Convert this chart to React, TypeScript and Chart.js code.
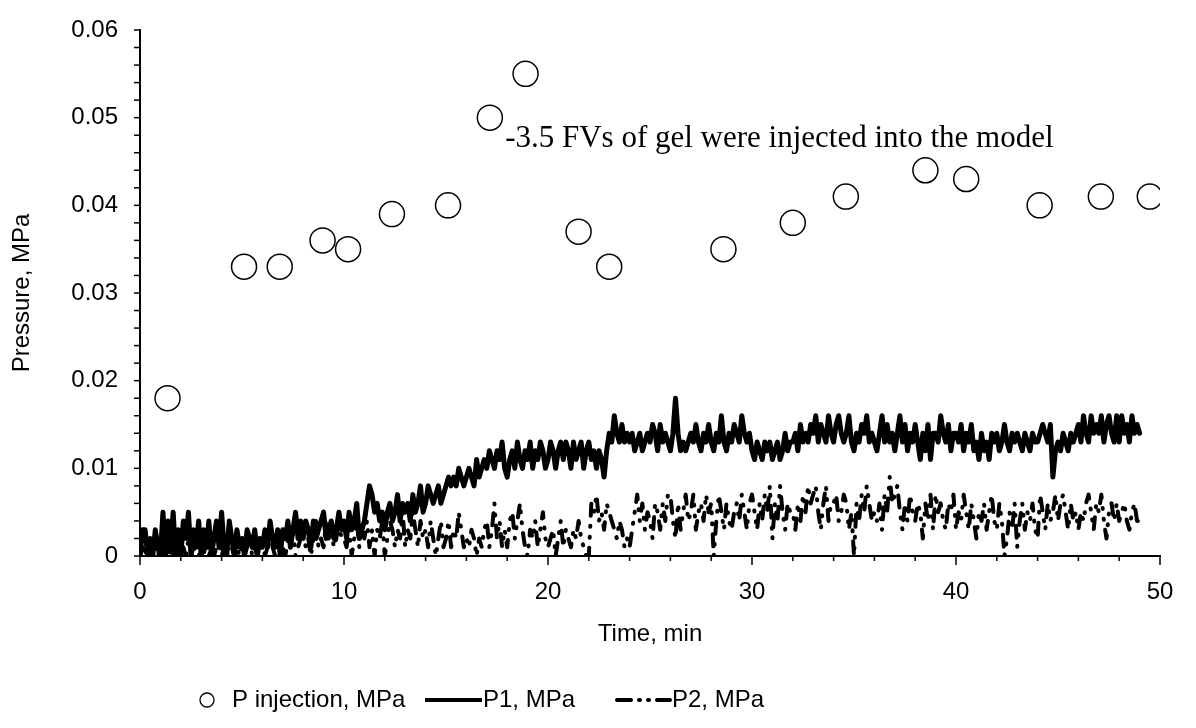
import { useEffect, useRef } from "react";
import { Chart, registerables } from "chart.js";
Chart.register(...registerables);

const seriesNames = ["P injection, MPa", "P1, MPa", "P2, MPa"];
const xTitle = "Time, min";
const yTitle = "Pressure, MPa";
const noteText = "-3.5 FVs of gel were injected into the model";
const noteAt = { t: 17.9, p: 0.0476 };
const xTickStep = 10;
const yTickStep = 0.01;

const injectionTimes = [1.35, 5.1, 6.85, 8.95, 10.2, 12.35, 15.1, 17.15, 18.9, 21.5, 23.0, 28.6, 32.0, 34.6, 38.5, 40.5, 44.1, 47.1, 49.5];
const injectionPressure = [0.018, 0.033, 0.033, 0.036, 0.035, 0.039, 0.040, 0.050, 0.055, 0.037, 0.033, 0.035, 0.038, 0.041, 0.044, 0.043, 0.040, 0.041, 0.041];

const sampleTimes = [
  0, 0.125, 0.25, 0.375, 0.5, 0.625, 0.75, 0.875,
  1, 1.125, 1.25, 1.375, 1.5, 1.625, 1.75, 1.875,
  2, 2.125, 2.25, 2.375, 2.5, 2.625, 2.75, 2.875,
  3, 3.125, 3.25, 3.375, 3.5, 3.625, 3.75, 3.875,
  4, 4.125, 4.25, 4.375, 4.5, 4.625, 4.75, 4.875,
  5, 5.125, 5.25, 5.375, 5.5, 5.625, 5.75, 5.875,
  6, 6.125, 6.25, 6.375, 6.5, 6.625, 6.75, 6.875,
  7, 7.125, 7.25, 7.375, 7.5, 7.625, 7.75, 7.875,
  8, 8.125, 8.25, 8.375, 8.5, 8.625, 8.75, 8.875,
  9, 9.125, 9.25, 9.375, 9.5, 9.625, 9.75, 9.875,
  10, 10.125, 10.25, 10.375, 10.5, 10.625, 10.75, 10.875,
  11, 11.125, 11.25, 11.375, 11.5, 11.625, 11.75, 11.875,
  12, 12.125, 12.25, 12.375, 12.5, 12.625, 12.75, 12.875,
  13, 13.125, 13.25, 13.375, 13.5, 13.625, 13.75, 13.875,
  14, 14.125, 14.25, 14.375, 14.5, 14.625, 14.75, 14.875,
  15, 15.125, 15.25, 15.375, 15.5, 15.625, 15.75, 15.875,
  16, 16.125, 16.25, 16.375, 16.5, 16.625, 16.75, 16.875,
  17, 17.125, 17.25, 17.375, 17.5, 17.625, 17.75, 17.875,
  18, 18.125, 18.25, 18.375, 18.5, 18.625, 18.75, 18.875,
  19, 19.125, 19.25, 19.375, 19.5, 19.625, 19.75, 19.875,
  20, 20.125, 20.25, 20.375, 20.5, 20.625, 20.75, 20.875,
  21, 21.125, 21.25, 21.375, 21.5, 21.625, 21.75, 21.875,
  22, 22.125, 22.25, 22.375, 22.5, 22.625, 22.75, 22.875,
  23, 23.125, 23.25, 23.375, 23.5, 23.625, 23.75, 23.875,
  24, 24.125, 24.25, 24.375, 24.5, 24.625, 24.75, 24.875,
  25, 25.125, 25.25, 25.375, 25.5, 25.625, 25.75, 25.875,
  26, 26.125, 26.25, 26.375, 26.5, 26.625, 26.75, 26.875,
  27, 27.125, 27.25, 27.375, 27.5, 27.625, 27.75, 27.875,
  28, 28.125, 28.25, 28.375, 28.5, 28.625, 28.75, 28.875,
  29, 29.125, 29.25, 29.375, 29.5, 29.625, 29.75, 29.875,
  30, 30.125, 30.25, 30.375, 30.5, 30.625, 30.75, 30.875,
  31, 31.125, 31.25, 31.375, 31.5, 31.625, 31.75, 31.875,
  32, 32.125, 32.25, 32.375, 32.5, 32.625, 32.75, 32.875,
  33, 33.125, 33.25, 33.375, 33.5, 33.625, 33.75, 33.875,
  34, 34.125, 34.25, 34.375, 34.5, 34.625, 34.75, 34.875,
  35, 35.125, 35.25, 35.375, 35.5, 35.625, 35.75, 35.875,
  36, 36.125, 36.25, 36.375, 36.5, 36.625, 36.75, 36.875,
  37, 37.125, 37.25, 37.375, 37.5, 37.625, 37.75, 37.875,
  38, 38.125, 38.25, 38.375, 38.5, 38.625, 38.75, 38.875,
  39, 39.125, 39.25, 39.375, 39.5, 39.625, 39.75, 39.875,
  40, 40.125, 40.25, 40.375, 40.5, 40.625, 40.75, 40.875,
  41, 41.125, 41.25, 41.375, 41.5, 41.625, 41.75, 41.875,
  42, 42.125, 42.25, 42.375, 42.5, 42.625, 42.75, 42.875,
  43, 43.125, 43.25, 43.375, 43.5, 43.625, 43.75, 43.875,
  44, 44.125, 44.25, 44.375, 44.5, 44.625, 44.75, 44.875,
  45, 45.125, 45.25, 45.375, 45.5, 45.625, 45.75, 45.875,
  46, 46.125, 46.25, 46.375, 46.5, 46.625, 46.75, 46.875,
  47, 47.125, 47.25, 47.375, 47.5, 47.625, 47.75, 47.875,
  48, 48.125, 48.25, 48.375, 48.5, 48.625, 48.75, 48.875,
  49,
];

const p1Pressure = [
  0, 0.003, 0.003, 0, 0.002, 0, 0.003, 0.001,
  0, 0.005, 0, 0.004, 0.001, 0.005, 0, 0.003,
  0, 0.004, 0.002, 0.005, 0, 0.003, 0.001, 0.004,
  0, 0.003, 0.001, 0.004, 0, 0.002, 0.004, 0.001,
  0.005, 0.001, 0, 0.004, 0.002, 0, 0.003, 0.001,
  0.002, 0, 0.003, 0.002, 0.001, 0.003, 0, 0.002,
  0.001, 0.003, 0.001, 0.004, 0.002, 0.001, 0.003, 0,
  0.003, 0.002, 0.004, 0.001, 0.003, 0.005, 0.002, 0.004,
  0.002, 0.004, 0.003, 0.001, 0.004, 0.002, 0.003, 0.004,
  0.005, 0.002, 0.003, 0.004, 0.002, 0.003, 0.005, 0.003,
  0.004, 0.002, 0.005, 0.003, 0.004, 0.006, 0.002, 0.003,
  0.004, 0.006, 0.008, 0.007, 0.005, 0.006, 0.004, 0.005,
  0.003, 0.005, 0.006, 0.004, 0.005, 0.007, 0.004, 0.006,
  0.005, 0.006, 0.004, 0.007, 0.005, 0.006, 0.008, 0.005,
  0.006, 0.008, 0.007, 0.006, 0.007, 0.008, 0.006, 0.007,
  0.008, 0.009, 0.008, 0.009, 0.008, 0.010, 0.009, 0.008,
  0.009, 0.010, 0.009, 0.008, 0.011, 0.009, 0.010, 0.011,
  0.010, 0.012, 0.011, 0.010, 0.012, 0.011, 0.013, 0.010,
  0.009, 0.011, 0.012, 0.010, 0.013, 0.011, 0.010, 0.012,
  0.011, 0.013, 0.010, 0.012, 0.011, 0.013, 0.012, 0.010,
  0.011, 0.013, 0.012, 0.010, 0.012, 0.013, 0.011, 0.013,
  0.012, 0.010, 0.013, 0.011, 0.012, 0.013, 0.010, 0.012,
  0.013, 0.011, 0.012, 0.010, 0.012, 0.011, 0.009, 0.012,
  0.014, 0.013, 0.016, 0.014, 0.013, 0.015, 0.013, 0.014,
  0.013, 0.014, 0.012, 0.013, 0.014, 0.012, 0.013, 0.014,
  0.013, 0.015, 0.014, 0.012, 0.015, 0.013, 0.014, 0.013,
  0.012, 0.014, 0.018, 0.014, 0.012, 0.013, 0.012, 0.013,
  0.014, 0.013, 0.015, 0.013, 0.012, 0.014, 0.013, 0.015,
  0.013, 0.012, 0.014, 0.013, 0.016, 0.013, 0.012, 0.014,
  0.013, 0.015, 0.014, 0.013, 0.016, 0.014, 0.013, 0.014,
  0.012, 0.011, 0.013, 0.012, 0.011, 0.013, 0.012, 0.013,
  0.011, 0.012, 0.013, 0.011, 0.012, 0.014, 0.012, 0.013,
  0.013, 0.014, 0.012, 0.015, 0.013, 0.014, 0.013, 0.015,
  0.014, 0.016, 0.013, 0.015, 0.014, 0.013, 0.016, 0.014,
  0.013, 0.015, 0.016, 0.014, 0.013, 0.014, 0.016, 0.013,
  0.012, 0.014, 0.013, 0.015, 0.014, 0.016, 0.013, 0.014,
  0.013, 0.012, 0.014, 0.016, 0.013, 0.015, 0.013, 0.014,
  0.012, 0.014, 0.016, 0.013, 0.015, 0.012, 0.014, 0.013,
  0.015, 0.013, 0.011, 0.014, 0.012, 0.015, 0.011, 0.014,
  0.014, 0.013, 0.016, 0.014, 0.013, 0.015, 0.012, 0.014,
  0.014, 0.013, 0.015, 0.012, 0.014, 0.013, 0.015, 0.012,
  0.013, 0.011, 0.014, 0.012, 0.013, 0.011, 0.014, 0.013,
  0.014, 0.012, 0.013, 0.015, 0.013, 0.012, 0.014, 0.013,
  0.014, 0.013, 0.012, 0.014, 0.013, 0.012, 0.014, 0.013,
  0.013, 0.014, 0.015, 0.014, 0.013, 0.015, 0.009, 0.012,
  0.013, 0.012, 0.014, 0.013, 0.012, 0.014, 0.013, 0.014,
  0.015, 0.013, 0.016, 0.014, 0.013, 0.016, 0.014, 0.015,
  0.014, 0.016, 0.013, 0.015, 0.016, 0.014, 0.013, 0.016,
  0.013, 0.016, 0.014, 0.015, 0.013, 0.016, 0.014, 0.015,
  0.014,
];

const p2Pressure = [
  0, 0.001, 0, 0.002, 0, 0, 0.001, 0,
  0.001, 0, 0.002, 0, 0.001, 0, 0, 0.001,
  0, 0.001, 0, 0.002, 0, 0.001, 0, 0,
  0.001, 0, 0.002, 0, 0.001, 0, 0.001, 0.002,
  0, 0.001, 0, 0.002, 0.001, 0, 0.001, 0,
  0.001, 0, 0.001, 0.002, 0, 0.001, 0, 0.001,
  0.002, 0, 0.001, 0.003, 0.001, 0, 0.002, 0.001,
  0.001, 0, 0.002, 0.001, 0.003, 0, 0.001, 0.002,
  0.003, 0.001, 0.002, 0, 0.002, 0.004, 0.001, 0.002,
  0.001, 0.004, 0.002, 0.003, 0.001, 0.002, 0.004, 0.002,
  0.002, 0.001, 0.003, 0, 0.002, 0.004, 0.001, 0.003,
  0.002, 0.004, 0.001, 0.003, 0, 0.003, 0.002, 0.004,
  0, 0.002, 0.004, 0.003, 0.001, 0.003, 0.002, 0.005,
  0.001, 0.003, 0.002, 0.005, 0.003, 0.001, 0.004, 0.002,
  0.003, 0.001, 0.004, 0.002, 0, 0.002, 0.004, 0.001,
  0.002, 0.004, 0.001, 0.003, 0.002, 0.005, 0.003, 0.001,
  0.002, 0.001, 0.003, 0.002, 0, 0.002, 0.001, 0.003,
  0.004, 0.001, 0.003, 0.006, 0.002, 0.004, 0.001, 0.003,
  0.001, 0.004, 0.005, 0.002, 0.004, 0.006, 0.003, 0.001,
  0, 0.003, 0.002, 0.004, 0.001, 0.003, 0.005, 0.002,
  0.001, 0.002, 0.003, 0, 0.002, 0.004, 0.001, 0.003,
  0.002, 0.001, 0.003, 0.002, 0.004, 0.002, 0.001, 0,
  0, 0.006, 0.005, 0.007, 0.004, 0.005, 0.003, 0.006,
  0.005, 0.004, 0.003, 0.002, 0.004, 0.003, 0.001, 0.002,
  0.001, 0.003, 0.005, 0.007, 0.004, 0.006, 0.003, 0.005,
  0.004, 0.002, 0.006, 0.005, 0.003, 0.006, 0.004, 0.007,
  0.007, 0.004, 0.002, 0.006, 0.003, 0.005, 0.007, 0.004,
  0.005, 0.007, 0.003, 0.005, 0.006, 0.004, 0.007, 0.005,
  0.006, 0, 0.004, 0.007, 0.005, 0.003, 0.006, 0.004,
  0.003, 0.005, 0.006, 0.004, 0.007, 0.005, 0.003, 0.006,
  0.007, 0.005, 0.003, 0.006, 0.004, 0.007, 0.005, 0.008,
  0.002, 0.006, 0.004, 0.008, 0.005, 0.003, 0.006, 0.005,
  0.005, 0.003, 0.006, 0.004, 0.007, 0.005, 0.008, 0.006,
  0.007, 0.008, 0.005, 0.003, 0.006, 0.008, 0.004, 0.006,
  0.006, 0.007, 0.004, 0.005, 0.007, 0.006, 0.003, 0.005,
  0, 0.006, 0.004, 0.007, 0.005, 0.008, 0.006, 0.004,
  0.005, 0.004, 0.006, 0.003, 0.007, 0.005, 0.009, 0.006,
  0.007, 0.008, 0.005, 0.003, 0.006, 0.004, 0.007, 0.005,
  0.004, 0.006, 0.005, 0.002, 0.006, 0.004, 0.007, 0.003,
  0.007, 0.005, 0.006, 0.004, 0.003, 0.006, 0.005, 0.007,
  0.003, 0.005, 0.004, 0.007, 0.005, 0.003, 0.006, 0.004,
  0.002, 0.005, 0.004, 0.006, 0.003, 0.005, 0.007, 0.004,
  0.003, 0.006, 0.004, 0, 0.002, 0.005, 0.003, 0.006,
  0.001, 0.004, 0.006, 0.003, 0.005, 0.004, 0.006, 0.003,
  0.002, 0.007, 0.005, 0.003, 0.006, 0.004, 0.005, 0.007,
  0.004, 0.006, 0.007, 0.005, 0.003, 0.006, 0.004, 0.005,
  0.003, 0.005, 0.004, 0.006, 0.007, 0.005, 0.003, 0.006,
  0.005, 0.007, 0.004, 0.002, 0.005, 0.006, 0.004, 0.006,
  0.004, 0.005, 0.006, 0.004, 0.003, 0.005, 0.006, 0.004,
  0.004,
];

const FONT = '"Liberation Sans", Arial, sans-serif';
const FONT_SIZE = 24;
const P2_DASH = [12, 10, 1, 10, 1, 10];

const tickMarksPlugin = {
  id: "tickMarks",
  afterDraw(chart: any) {
    const { ctx, scales } = chart;
    const xs = scales.x;
    const ys = scales.y;
    ctx.save();
    ctx.strokeStyle = "#000";
    ctx.lineWidth = 1.5;
    const bottom = ys.getPixelForValue(0);
    const left = xs.getPixelForValue(0);
    for (let i = 0; i <= 25; i++) {
      const px = xs.getPixelForValue(i * 2);
      const len = i % 5 === 0 ? 9 : 5;
      ctx.beginPath();
      ctx.moveTo(px, bottom);
      ctx.lineTo(px, bottom + len);
      ctx.stroke();
    }
    for (let i = 0; i <= 30; i++) {
      const py = ys.getPixelForValue(i * 0.002);
      ctx.beginPath();
      ctx.moveTo(left, py);
      ctx.lineTo(left - 6, py);
      ctx.stroke();
    }
    ctx.restore();
  },
};

const notePlugin = {
  id: "note",
  afterDraw(chart: any) {
    const { ctx, scales } = chart;
    ctx.save();
    ctx.font = '31px "Liberation Serif", "Times New Roman", serif';
    ctx.fillStyle = "#000";
    ctx.textBaseline = "middle";
    ctx.textAlign = "left";
    ctx.fillText(noteText, scales.x.getPixelForValue(noteAt.t), scales.y.getPixelForValue(noteAt.p));
    ctx.restore();
  },
};

const legendPlugin = {
  id: "customLegend",
  afterDraw(chart: any) {
    const { ctx } = chart;
    const y = 700;
    ctx.save();
    ctx.font = FONT_SIZE + "px " + FONT;
    ctx.fillStyle = "#000";
    ctx.strokeStyle = "#000";
    ctx.textBaseline = "middle";
    ctx.textAlign = "left";
    ctx.beginPath();
    ctx.arc(207, y, 7, 0, Math.PI * 2);
    ctx.lineWidth = 1.3;
    ctx.stroke();
    ctx.fillText(seriesNames[0], 232, y);
    ctx.beginPath();
    ctx.lineWidth = 4;
    ctx.moveTo(425, y);
    ctx.lineTo(482, y);
    ctx.stroke();
    ctx.fillText(seriesNames[1], 483, y);
    ctx.beginPath();
    ctx.lineWidth = 4;
    ctx.lineCap = "round";
    ctx.setLineDash([14, 8, 1, 8, 1, 8]);
    ctx.moveTo(617, y);
    ctx.lineTo(670, y);
    ctx.stroke();
    ctx.setLineDash([]);
    ctx.fillText(seriesNames[2], 672, y);
    ctx.restore();
  },
};

export default function App() {
  const ref = useRef<HTMLCanvasElement | null>(null);
  useEffect(() => {
    if (!ref.current) return;
    const chart = new Chart(ref.current, {
      type: "scatter",
      data: {
        datasets: [
          {
            label: seriesNames[0],
            data: injectionTimes.map((t, i) => ({ x: t, y: injectionPressure[i] })),
            showLine: false,
            pointStyle: "circle",
            pointRadius: 12.5,
            pointBorderWidth: 1.5,
            borderColor: "#000",
            backgroundColor: "#fff",
            pointBackgroundColor: "#fff",
            pointBorderColor: "#000",
          },
          {
            label: seriesNames[1],
            data: sampleTimes.map((t, i) => ({ x: t, y: p1Pressure[i] })),
            showLine: true,
            pointRadius: 0,
            borderColor: "#000",
            borderWidth: 5,
            tension: 0,
            borderJoinStyle: "round",
            borderCapStyle: "round",
          },
          {
            label: seriesNames[2],
            data: sampleTimes.map((t, i) => ({ x: t, y: p2Pressure[i] })),
            showLine: true,
            pointRadius: 0,
            borderColor: "#000",
            borderWidth: 4,
            tension: 0,
            borderDash: P2_DASH,
            borderJoinStyle: "round",
            borderCapStyle: "round",
          },
        ],
      } as any,
      options: {
        animation: false,
        responsive: false,
        maintainAspectRatio: false,
        devicePixelRatio: 1,
        layout: { padding: { left: 0, right: 36, top: 30, bottom: 72 } },
        plugins: { legend: { display: false }, tooltip: { enabled: false } },
        scales: {
          x: {
            type: "linear",
            min: 0,
            max: 50,
            grid: { display: false, drawTicks: false },
            border: { display: true, color: "#000", width: 2 },
            ticks: { stepSize: xTickStep, color: "#000", font: { family: FONT, size: FONT_SIZE }, padding: 22, maxRotation: 0 },
            title: { display: true, text: xTitle, color: "#000", font: { family: FONT, size: FONT_SIZE }, padding: { top: 0, bottom: 7 } },
            afterFit: (s: any) => { s.height = 100; s.paddingLeft = 0; s.paddingRight = 0; },
          },
          y: {
            type: "linear",
            min: 0,
            max: 0.06,
            grid: { display: false, drawTicks: false },
            border: { display: true, color: "#000", width: 2 },
            ticks: {
              stepSize: yTickStep,
              color: "#000",
              font: { family: FONT, size: FONT_SIZE },
              padding: 22,
              callback: (v: any) => (Math.abs(v) < 1e-9 ? "0" : Number(v).toFixed(2)),
            },
            title: { display: true, text: yTitle, color: "#000", font: { family: FONT, size: FONT_SIZE }, padding: { top: 8, bottom: 0 } },
            afterFit: (s: any) => { s.width = 140; s.paddingTop = 0; s.paddingBottom = 0; },
          },
        },
      } as any,
      plugins: [tickMarksPlugin, notePlugin, legendPlugin],
    });
    return () => chart.destroy();
  }, []);
  return (
    <div style={{ position: "absolute", left: 0, top: 0, width: 1196, height: 728, background: "#fff" }}>
      <canvas ref={ref} width={1196} height={728} style={{ display: "block" }} />
    </div>
  );
}
